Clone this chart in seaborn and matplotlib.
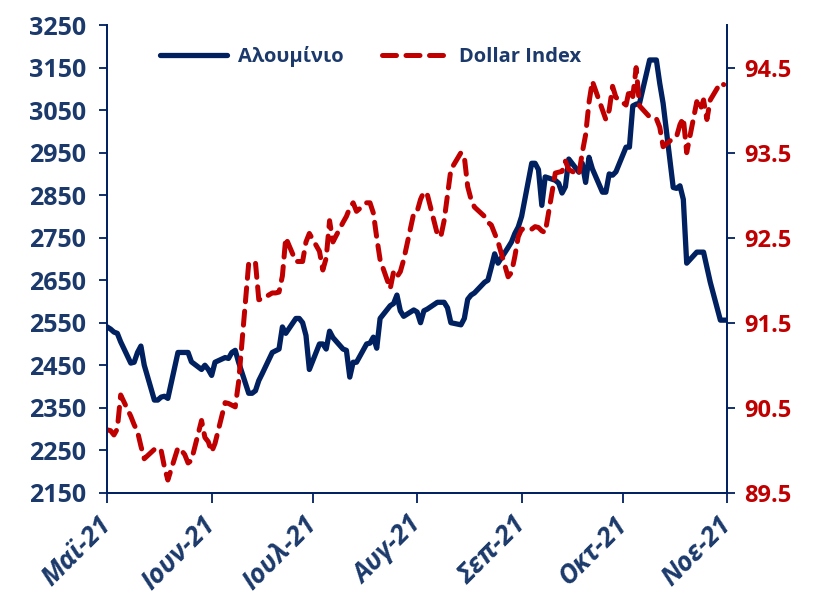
import numpy as np
import pandas as pd
import seaborn as sns
import matplotlib.pyplot as plt

# data (business days)
dates = pd.bdate_range("2021-05-03", "2021-11-03")

aluminium = [
    2540, 2535, 2528, 2525, 2505,
    2455, 2457, 2480, 2495, 2450,
    2368, 2368, 2375, 2377, 2372,
    2480, 2480, 2480, 2480, 2458,
    2440, 2450, 2440, 2426, 2457,
    2468, 2466, 2480, 2485, 2457,
    2384, 2384, 2390, 2414, 2430,
    2480, 2484, 2488, 2540, 2525,
    2560, 2560, 2550, 2520, 2440,
    2500, 2500, 2488, 2530, 2515,
    2488, 2485, 2422, 2457, 2457,
    2500, 2502, 2516, 2490, 2560,
    2590, 2595, 2615, 2578, 2565,
    2580, 2575, 2550, 2578, 2582,
    2598, 2598, 2598, 2585, 2550,
    2545, 2560, 2605, 2615, 2620,
    2645, 2650, 2680, 2712, 2690,
    2727, 2740, 2760, 2775, 2800,
    2925, 2925, 2910, 2826, 2893,
    2885, 2878, 2855, 2870, 2935,
    2904, 2925, 2880, 2939, 2912,
    2857, 2857, 2900, 2897, 2905,
    2963, 2963, 3060, 3064, 3066,
    3168, 3168, 3168, 3113, 3066,
    2868, 2866, 2872, 2840, 2690,
    2716, 2716, 2716, 2680, 2645,
    2556, 2556, 2556,
]

dollar_index = [
    90.24, 90.23, 90.18, 90.25, 90.65,
    90.40, 90.30, 90.22, 90.05, 89.90,
    90.01, 89.98, 90.00, 89.80, 89.65,
    90.03, 90.00, 89.95, 89.85, 89.88,
    90.35, 90.15, 90.10, 89.98, 90.08,
    90.56, 90.55, 90.53, 90.51, 90.80,
    92.20, 92.22, 92.21, 91.77, 91.78,
    91.85, 91.85, 91.86, 92.05, 92.50,
    92.22, 92.22, 92.22, 92.45, 92.55,
    92.34, 92.12, 92.26, 92.70, 92.45,
    92.68, 92.75, 92.85, 92.91, 92.81,
    92.91, 92.91, 92.79, 92.50, 92.24,
    91.90, 92.10, 92.04, 92.10, 92.24,
    92.79, 92.81, 92.95, 93.04, 93.01,
    92.54, 92.51, 92.70, 93.00, 93.30,
    93.50, 93.45, 93.10, 92.95, 92.86,
    92.75, 92.68, 92.65, 92.55, 92.45,
    92.04, 92.09, 92.28, 92.51, 92.60,
    92.60, 92.63, 92.62, 92.58, 92.56,
    93.26, 93.27, 93.28, 93.40, 93.30,
    93.24, 93.50, 93.71, 94.09, 94.34,
    94.00, 93.89, 94.00, 94.28, 94.15,
    94.06, 94.25, 94.16, 94.50, 94.05,
    93.92, 93.91, 93.90, 93.80, 93.57,
    93.67, 93.69, 93.83, 93.91, 93.50,
    94.10, 94.00, 94.12, 93.89, 94.12,
    94.32, 94.30, np.nan,
]

month_labels = ["Μαϊ-21", "Ιουν-21", "Ιουλ-21", "Αυγ-21", "Σεπ-21", "Οκτ-21", "Νοε-21"]
left_ticks = list(range(2150, 3251, 100))
right_ticks = [89.5, 90.5, 91.5, 92.5, 93.5, 94.5]

df = pd.DataFrame({"date": dates, "Αλουμίνιο": aluminium, "Dollar Index": dollar_index})

navy = "#002060"
txt_navy = "#1B3A6B"
red = "#C00000"

sns.set_style("white")
plt.rcParams["font.family"] = ["Open Sans", "DejaVu Sans"]
plt.rcParams["font.weight"] = "bold"

fig = plt.figure(figsize=(8.31, 5.98), dpi=100)
ax1 = fig.add_axes([0.129, 0.176, 0.746, 0.782])
ax2 = ax1.twinx()

sns.lineplot(data=df, x="date", y="Αλουμίνιο", ax=ax1, color=navy, lw=3.8,
             solid_joinstyle="round", label="Αλουμίνιο", legend=False)
sns.lineplot(data=df, x="date", y="Dollar Index", ax=ax2, color=red, lw=3.6,
             dashes=False, legend=False, label="Dollar Index")
ax2.lines[0].set_dashes((2.8, 1.9))
ax2.lines[0].set_dash_capstyle("round")

ax1.set_ylim(2150, 3250)
ax2.set_ylim(89.5, 95.0)
ax1.set_xlim(dates[0], dates[-1])

month_ticks = pd.date_range(dates[0], periods=7, freq=pd.DateOffset(months=1))
ax1.set_xticks(month_ticks)
ax1.set_xticklabels(month_labels, rotation=45, ha="right", va="center",
                    rotation_mode="anchor", fontstyle="italic", fontweight="bold",
                    fontsize=19, color=txt_navy)
ax1.set_yticks(left_ticks)
ax1.set_yticklabels([str(v) for v in left_ticks], fontsize=18, fontweight="bold", color=txt_navy)
ax2.set_yticks(right_ticks)
ax2.set_yticklabels([f"{v:.1f}" for v in right_ticks], fontsize=17, fontweight="bold", color=red)

ax1.set_xlabel("")
ax1.set_ylabel("")
ax2.set_ylabel("")

for ax in (ax1, ax2):
    ax.spines["top"].set_visible(False)
    for s in ("left", "right", "bottom"):
        ax.spines[s].set_color(navy)
        ax.spines[s].set_linewidth(1.3)
ax1.tick_params(axis="x", direction="out", length=7, width=1.3, color=navy, bottom=True, pad=13)
ax1.tick_params(axis="y", direction="out", length=6, width=1.3, color=navy, left=True, pad=9)
ax2.tick_params(axis="y", direction="out", length=6, width=1.3, color=navy, right=True, pad=6)

h1, l1 = ax1.get_legend_handles_labels()
h2, l2 = ax2.get_legend_handles_labels()
leg = ax2.legend(h1 + h2, l1 + l2, loc="center", bbox_to_anchor=(0.425, 0.932), ncol=2,
                 frameon=False, handlelength=3.3, columnspacing=1.9, handletextpad=0.55,
                 prop={"weight": "bold", "size": 14.5})
for t in leg.get_texts():
    t.set_color(txt_navy)

fig.savefig("out.png", dpi=100)
